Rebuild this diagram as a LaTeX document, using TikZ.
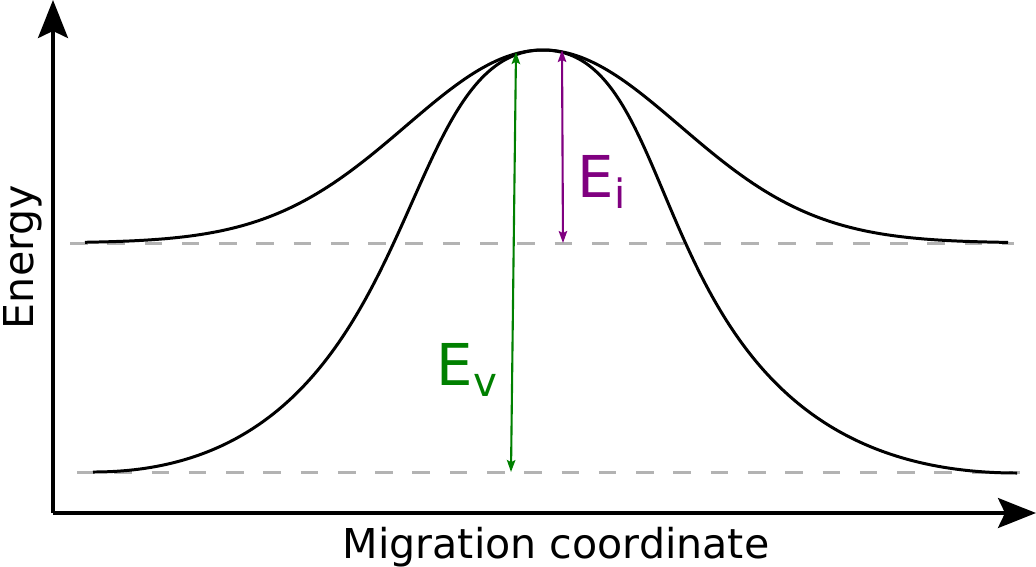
\documentclass[tikz,border=0pt]{standalone}
\usepackage{fontspec}
\setmainfont{DejaVu Sans}
\usetikzlibrary{arrows.meta}

\definecolor{vacgreen}{HTML}{008000}
\definecolor{intpurple}{HTML}{800080}
\definecolor{refgray}{HTML}{B3B3B3}
\newcommand{\barrier}[2]{#1\raisebox{-3.4pt}{\fontsize{11.5pt}{12pt}\selectfont #2}}

\begin{document}
\begin{tikzpicture}[
  x=0.01cm, y=-0.01cm,
  axisline/.style={line width=1.1pt, -{Stealth[length=10.8pt, width=8.5pt, inset=2pt]}},
  profile/.style={line width=0.85pt},
  refline/.style={draw=refgray, line width=0.85pt, dash pattern=on 5pt off 5.6pt},
  barrierarrow/.style={line width=0.6pt, {Stealth[length=3.4pt, width=2.4pt, inset=0.6pt]}-{Stealth[length=3.4pt, width=2.4pt, inset=0.6pt]}},
  lbl/.style={font=\fontsize{16.4pt}{18pt}\selectfont, anchor=base west, inner sep=0pt},
  axlabel/.style={font=\fontsize{11.7pt}{14pt}\selectfont, anchor=base, inner sep=0pt}
]
\useasboundingbox (0,0) rectangle (1036,566);

\coordinate (origin) at (53,513);
\coordinate (ytip) at (53,0);
\coordinate (xtip) at (1036,513);
\coordinate (peak) at (543,50);
\coordinate (vleft) at (93,472);
\coordinate (vright) at (1017,473);
\coordinate (ibase-l) at (70,243);
\coordinate (ibase-r) at (1014,243);
\coordinate (vbase-l) at (77,472);
\coordinate (vbase-r) at (1020,472);
\coordinate (evtop) at (516,52);
\coordinate (evbot) at (511,472);
\coordinate (eitop) at (562,50);
\coordinate (eibot) at (563,243);

% reference levels
\draw[refline] (ibase-l) -- (ibase-r);
\draw[refline] (vbase-l) -- (vbase-r);

% barriers
\draw[profile] plot[domain=85:1008, samples=150, smooth] (\x, {243-193*exp(-0.5*((\x-543)/137)^2)});
\draw[profile] (vleft) .. controls +(335,0) and +(-156,0) .. (peak)
  .. controls +(156,0) and +(-385,0) .. (vright);

\draw[axisline] (origin) -- (ytip);
\draw[axisline] (origin) -- (xtip);

\draw[barrierarrow, draw=vacgreen, fill=vacgreen] (evbot) -- (evtop);
\draw[barrierarrow, draw=intpurple, fill=intpurple] (eibot) -- (eitop);

\node[lbl, text=vacgreen] (ev) at (436,385) {\barrier{E}{v}};
\node[lbl, text=intpurple] (ei) at (577,197) {\barrier{E}{i}};
\node[axlabel] (xlab) at (556,558) {Migration coordinate};
\node[axlabel, rotate=90] (ylab) at (33,257) {Energy};
\end{tikzpicture}
\end{document}
